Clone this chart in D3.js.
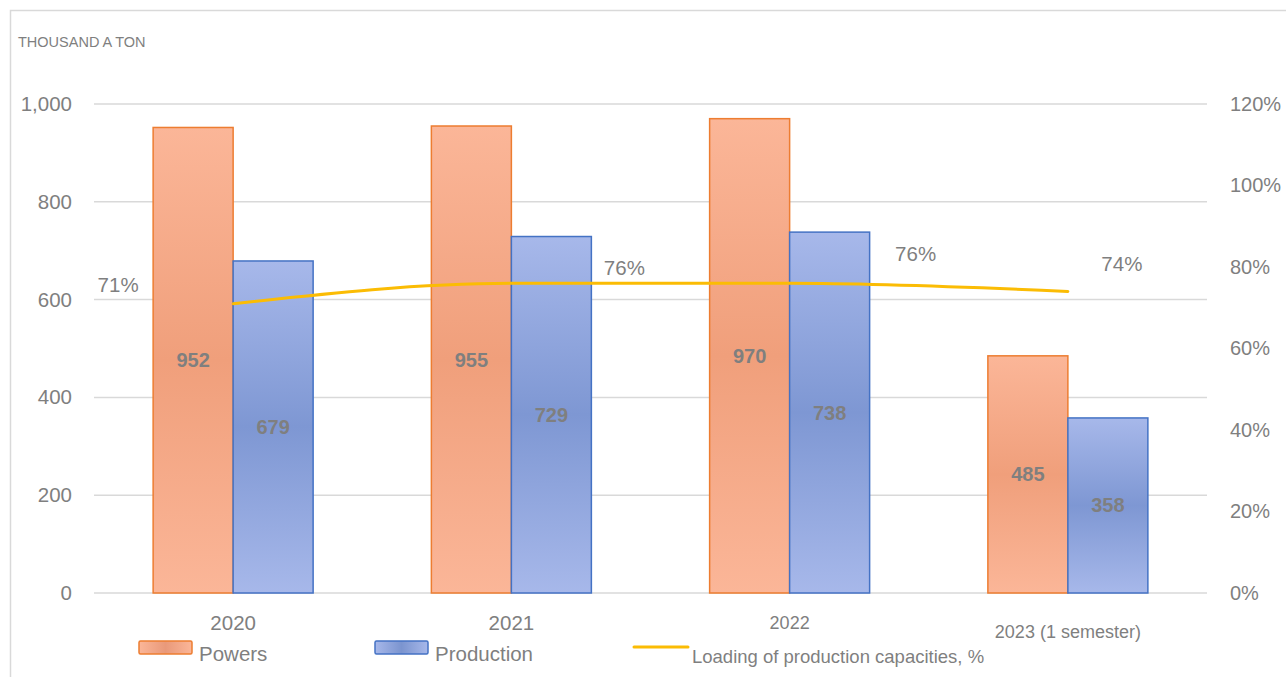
<!DOCTYPE html>
<html>
<head>
<meta charset="utf-8">
<script src="https://cdn.jsdelivr.net/npm/d3@7"></script>
<style>
  html, body { margin: 0; padding: 0; background: #fff; }
  svg { display: block; font-family: "Liberation Sans", Arial, sans-serif; }
</style>
</head>
<body>
<svg id="chart" width="1286" height="677"></svg>
<script>
// ---- data ----
const categories = ["2020", "2021", "2022", "2023 (1 semester)"];
const powers = [952, 955, 970, 485];
const production = [679, 729, 738, 358];
const loading = [0.71, 0.76, 0.76, 0.74];
const leftTicks = [0, 200, 400, 600, 800, 1000];
const rightTicks = [0, 0.2, 0.4, 0.6, 0.8, 1.0, 1.2];
const seriesNames = ["Powers", "Production", "Loading of production capacities, %"];
const unitLabel = "THOUSAND A TON";

// ---- layout ----
const svg = d3.select("#chart");
const W = 1286, H = 677;
const plotL = 94, plotR = 1207, plotT = 104, plotB = 593;
const textColor = "#7f7f7f";

const defs = svg.append("defs");
function vGrad(id, light, dark) {
  const g = defs.append("linearGradient").attr("id", id)
    .attr("x1", 0).attr("y1", 0).attr("x2", 0).attr("y2", 1);
  g.append("stop").attr("offset", "0%").attr("stop-color", light);
  g.append("stop").attr("offset", "50%").attr("stop-color", dark);
  g.append("stop").attr("offset", "100%").attr("stop-color", light);
}
function hGrad(id, light, dark) {
  const g = defs.append("linearGradient").attr("id", id)
    .attr("x1", 0).attr("y1", 0).attr("x2", 1).attr("y2", 0);
  g.append("stop").attr("offset", "0%").attr("stop-color", light);
  g.append("stop").attr("offset", "50%").attr("stop-color", dark);
  g.append("stop").attr("offset", "100%").attr("stop-color", light);
}
vGrad("gPow", "#fbb698", "#f09f7b");
vGrad("gProd", "#a7b8ea", "#7e97d3");
hGrad("gPowL", "#fbb698", "#e9997a");
hGrad("gProdL", "#a7b8ea", "#7b94cf");

// frame
svg.append("rect").attr("x", 10.5).attr("y", 10.5)
  .attr("width", W).attr("height", H)
  .attr("fill", "none").attr("stroke", "#d9d9d9").attr("stroke-width", 1.5);

// scales
const x = d3.scaleBand().domain(categories).range([plotL, plotR]).padding(0);
const barW = x.bandwidth() * 0.2875;
const y = d3.scaleLinear().domain([0, 1000]).range([plotB, plotT]);
const y2 = d3.scaleLinear().domain([0, 1.2]).range([plotB, plotT]);

// gridlines
svg.append("g").selectAll("line").data(leftTicks).join("line")
  .attr("x1", plotL).attr("x2", plotR)
  .attr("y1", d => y(d)).attr("y2", d => y(d))
  .attr("stroke", "#d9d9d9").attr("stroke-width", 1.5);

// unit label
svg.append("text").attr("x", 18).attr("y", 47).text(unitLabel)
  .attr("font-size", 14.5).attr("fill", textColor);

// left axis
const axL = svg.append("g").attr("transform", "translate(72,0)")
  .call(d3.axisLeft(y).tickValues(leftTicks).tickFormat(d3.format(",")).tickSize(0).tickPadding(0));
axL.select(".domain").remove();
axL.selectAll("text").attr("font-size", 20.5).attr("fill", textColor)
  .attr("font-family", "Liberation Sans, Arial, sans-serif");

// right axis
const axR = svg.append("g").attr("transform", "translate(1230,0)")
  .call(d3.axisRight(y2).tickValues(rightTicks).tickFormat(d3.format(".0%")).tickSize(0).tickPadding(0));
axR.select(".domain").remove();
axR.selectAll("text").attr("font-size", 20).attr("fill", textColor)
  .attr("font-family", "Liberation Sans, Arial, sans-serif");

// bars
const center = d => x(d) + x.bandwidth() / 2;
const barsG = svg.append("g");
barsG.selectAll("rect.pow").data(categories).join("rect").attr("class", "pow")
  .attr("x", d => center(d) - barW).attr("width", barW)
  .attr("y", (d, i) => y(powers[i])).attr("height", (d, i) => y(0) - y(powers[i]))
  .attr("fill", "url(#gPow)").attr("stroke", "#ed7d31").attr("stroke-width", 1.5);
barsG.selectAll("rect.prod").data(categories).join("rect").attr("class", "prod")
  .attr("x", d => center(d)).attr("width", barW)
  .attr("y", (d, i) => y(production[i])).attr("height", (d, i) => y(0) - y(production[i]))
  .attr("fill", "url(#gProd)").attr("stroke", "#4472c4").attr("stroke-width", 1.5);

// bar labels
barsG.selectAll("text.powl").data(categories).join("text").attr("class", "powl")
  .attr("x", d => center(d) - barW / 2)
  .attr("y", (d, i) => (y(powers[i]) + y(0)) / 2).attr("dy", "0.35em")
  .attr("text-anchor", "middle").attr("font-size", 20).attr("font-weight", "bold")
  .attr("fill", "#7f7f7f").text((d, i) => powers[i]);
barsG.selectAll("text.prodl").data(categories).join("text").attr("class", "prodl")
  .attr("x", d => center(d) + barW / 2)
  .attr("y", (d, i) => (y(production[i]) + y(0)) / 2).attr("dy", "0.35em")
  .attr("text-anchor", "middle").attr("font-size", 20).attr("font-weight", "bold")
  .attr("fill", "#7f7f7f").text((d, i) => production[i]);

// line
const line = d3.line().x((d, i) => center(categories[i])).y(d => y2(d)).curve(d3.curveMonotoneX);
svg.append("path").datum(loading).attr("d", line)
  .attr("fill", "none").attr("stroke", "#fbbc04").attr("stroke-width", 3)
  .attr("stroke-linecap", "round");

// line labels (manually placed offsets like the original)
const lblOff = [[-115, -19], [113, -15], [126, -29], [54, -28]];
svg.append("g").selectAll("text").data(loading).join("text")
  .attr("x", (d, i) => center(categories[i]) + lblOff[i][0])
  .attr("y", (d, i) => y2(d) + lblOff[i][1]).attr("dy", "0.35em")
  .attr("text-anchor", "middle").attr("font-size", 20.5).attr("fill", textColor)
  .text(d => d3.format(".0%")(d));

// bottom axis
const axB = svg.append("g")
  .call(d3.axisBottom(x).tickSize(0).tickPadding(0));
axB.select(".domain").remove();
const xl = [[20.5, 630], [20.5, 630], [18, 629], [18, 638]];
axB.selectAll("text")
  .attr("font-size", (d, i) => xl[i][0]).attr("y", (d, i) => xl[i][1]).attr("dy", 0)
  .attr("fill", textColor).attr("font-family", "Liberation Sans, Arial, sans-serif");

// legend
const lg = svg.append("g");
lg.append("rect").attr("x", 139).attr("y", 641).attr("width", 53).attr("height", 13).attr("rx", 1.5)
  .attr("fill", "url(#gPowL)").attr("stroke", "#ed7d31").attr("stroke-width", 1.5);
lg.append("text").attr("x", 199).attr("y", 661).attr("font-size", 20.5).attr("fill", textColor).text(seriesNames[0]);
lg.append("rect").attr("x", 375).attr("y", 641).attr("width", 53).attr("height", 13).attr("rx", 1.5)
  .attr("fill", "url(#gProdL)").attr("stroke", "#4472c4").attr("stroke-width", 1.5);
lg.append("text").attr("x", 435).attr("y", 661).attr("font-size", 20.5).attr("fill", textColor).text(seriesNames[1]);
lg.append("line").attr("x1", 634).attr("x2", 688).attr("y1", 647).attr("y2", 647)
  .attr("stroke", "#fbbc04").attr("stroke-width", 3).attr("stroke-linecap", "round");
lg.append("text").attr("x", 692).attr("y", 663).attr("font-size", 18.5).attr("fill", textColor).text(seriesNames[2]);
</script>
</body>
</html>
